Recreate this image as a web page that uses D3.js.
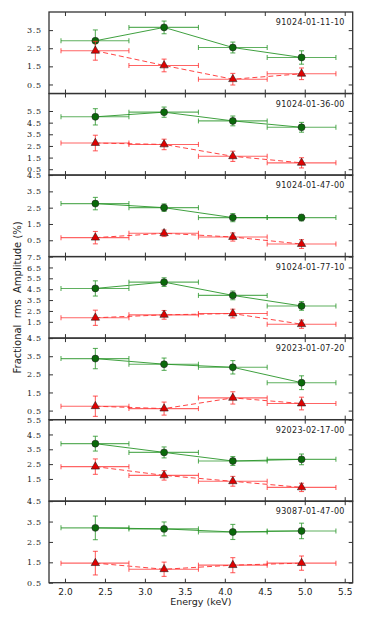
<!DOCTYPE html>
<html>
<head>
<meta charset="utf-8">
<script src="https://cdn.jsdelivr.net/npm/d3@7"></script>
<style>
  body { margin: 0; background: #fff; }
  svg { display: block; }
</style>
</head>
<body>
<div id="chart"></div>
<script>
"use strict";

// energy bins (keV)
const energy = [2.38, 3.24, 4.10, 4.96];
const binLo = [1.95, 2.80, 3.67, 4.53];
const binHi = [2.80, 3.67, 4.53, 5.39];

const obsIds = [
  "91024-01-11-10", "91024-01-36-00", "91024-01-47-00", "91024-01-77-10",
  "92023-01-07-20", "92023-02-17-00", "93087-01-47-00"
];

// green circles (solid)
const greenVals = [
  [2.91, 3.65, 2.54, 1.99],
  [5.00, 5.40, 4.65, 4.10],
  [2.75, 2.50, 1.89, 1.89],
  [4.57, 5.15, 3.93, 2.96],
  [3.37, 3.06, 2.89, 2.04],
  [3.88, 3.29, 2.71, 2.82],
  [3.19, 3.14, 2.99, 3.04]
];
const greenErr = [
  [0.60, 0.35, 0.30, 0.37],
  [0.70, 0.44, 0.42, 0.42],
  [0.38, 0.23, 0.25, 0.20],
  [0.70, 0.40, 0.40, 0.40],
  [0.56, 0.34, 0.37, 0.38],
  [0.50, 0.37, 0.30, 0.36],
  [0.58, 0.34, 0.37, 0.38]
];

// red triangles (dashed)
const redVals = [
  [2.36, 1.55, 0.79, 1.09],
  [2.75, 2.63, 1.61, 1.05],
  [0.66, 0.93, 0.70, 0.27],
  [1.87, 2.14, 2.26, 1.28],
  [0.74, 0.61, 1.20, 0.89],
  [2.33, 1.74, 1.34, 0.93],
  [1.46, 1.16, 1.36, 1.46]
];
const redErr = [
  [0.52, 0.35, 0.32, 0.32],
  [0.67, 0.45, 0.44, 0.44],
  [0.38, 0.20, 0.25, 0.27],
  [0.70, 0.40, 0.40, 0.38],
  [0.56, 0.36, 0.34, 0.35],
  [0.52, 0.32, 0.33, 0.28],
  [0.58, 0.35, 0.37, 0.35]
];

const yDomains = [[0, 4.5], [0, 7], [-0.5, 4.5], [0, 7.5], [0, 4.5], [0, 5.5], [0.5, 4.5]];
const yTicks = [
  [0.5, 1.5, 2.5, 3.5],
  [0.5, 1.5, 2.5, 3.5, 4.5, 5.5],
  [0.5, 1.5, 2.5, 3.5, 4.5],
  [1.5, 2.5, 3.5, 4.5, 5.5, 6.5, 7.5],
  [0.5, 1.5, 2.5, 3.5, 4.5],
  [1.5, 2.5, 3.5, 4.5, 5.5],
  [0.5, 1.5, 2.5, 3.5, 4.5]
];
const xTicks = [2.0, 2.5, 3.0, 3.5, 4.0, 4.5, 5.0, 5.5];

///////////////////////////
// sizing
///////////////////////////
const width = 392, height = 627;
const plotL = 49, plotR = 352.7, plotT = 12, plotB = 582.7;
const ph = (plotB - plotT) / obsIds.length;

const svg = d3.select("#chart").append("svg")
  .attr("width", width).attr("height", height);

const x = d3.scaleLinear().domain([1.8, 5.6]).range([plotL, plotR]);

const series = [
  { vals: greenVals, err: greenErr, line: "#2a962a", fill: "#0a6a0a", dash: null, shape: d3.symbolCircle, size: 38 },
  { vals: redVals, err: redErr, line: "#ff3030", fill: "#e00000", dash: "5,3", shape: d3.symbolTriangle, size: 30 }
];

obsIds.forEach((id, p) => {
  const y0 = plotT + p * ph;
  const y = d3.scaleLinear().domain(yDomains[p]).range([y0 + ph, y0]);
  const g = svg.append("g");

  // axes (inward ticks)
  const ay = g.append("g").attr("transform", `translate(${plotL},0)`)
    .call(d3.axisLeft(y).tickValues(yTicks[p]).tickSize(-4).tickPadding(7).tickFormat(d3.format(".1f")));
  ay.select(".domain").remove();
  ay.selectAll("text")
    .style("font-family", "'DejaVu Serif', serif").style("font-size", "8px")
    .style("letter-spacing", "0.8px").attr("fill", "#222");
  ay.selectAll("line").attr("stroke", "#333");

  const ar = g.append("g").attr("transform", `translate(${plotR},0)`)
    .call(d3.axisRight(y).tickValues(yTicks[p]).tickSize(-4).tickFormat(""));
  ar.select(".domain").remove();
  ar.selectAll("line").attr("stroke", "#333");

  const at = g.append("g").attr("transform", `translate(0,${y0})`)
    .call(d3.axisTop(x).tickValues(xTicks).tickSize(-4).tickFormat(""));
  at.select(".domain").remove();
  at.selectAll("line").attr("stroke", "#333");

  const ab = g.append("g").attr("transform", `translate(0,${y0 + ph})`)
    .call(d3.axisBottom(x).tickValues(xTicks).tickSize(-4).tickPadding(6)
      .tickFormat(p === obsIds.length - 1 ? d3.format(".1f") : ""));
  ab.select(".domain").remove();
  ab.selectAll("line").attr("stroke", "#333");
  ab.selectAll("text").style("font-family", "'DejaVu Sans', sans-serif")
    .style("font-size", "9px").attr("fill", "#222");

  // frame
  g.append("rect")
    .attr("x", plotL).attr("y", y0).attr("width", plotR - plotL).attr("height", ph)
    .attr("fill", "none").attr("stroke", "#333").attr("stroke-width", 1.3);

  series.forEach((s) => {
    const pts = energy.map((e, i) => ({ e, lo: binLo[i], hi: binHi[i], v: s.vals[p][i], er: s.err[p][i] }));

    // connecting line
    g.append("path")
      .datum(pts)
      .attr("fill", "none")
      .attr("stroke", s.line)
      .attr("stroke-width", 1)
      .attr("stroke-opacity", 0.9)
      .attr("stroke-dasharray", s.dash)
      .attr("d", d3.line().x((d) => x(d.e)).y((d) => y(d.v)));

    const eb = g.append("g").attr("stroke", s.line).attr("stroke-width", 1.1).attr("stroke-opacity", 0.75);
    // horizontal bars
    eb.selectAll(".hb").data(pts).enter().append("line")
      .attr("x1", (d) => x(d.lo)).attr("x2", (d) => x(d.hi))
      .attr("y1", (d) => y(d.v)).attr("y2", (d) => y(d.v));
    eb.selectAll(".hc").data(pts.flatMap((d) => [[d.lo, d.v], [d.hi, d.v]])).enter().append("line")
      .attr("x1", (d) => x(d[0])).attr("x2", (d) => x(d[0]))
      .attr("y1", (d) => y(d[1]) - 2.5).attr("y2", (d) => y(d[1]) + 2.5);
    // vertical bars
    eb.selectAll(".vb").data(pts).enter().append("line")
      .attr("x1", (d) => x(d.e)).attr("x2", (d) => x(d.e))
      .attr("y1", (d) => y(d.v - d.er)).attr("y2", (d) => y(d.v + d.er));
    eb.selectAll(".vc").data(pts.flatMap((d) => [[d.e, d.v - d.er], [d.e, d.v + d.er]])).enter().append("line")
      .attr("x1", (d) => x(d[0]) - 2.5).attr("x2", (d) => x(d[0]) + 2.5)
      .attr("y1", (d) => y(d[1])).attr("y2", (d) => y(d[1]));

    // markers
    g.selectAll(null).data(pts).enter().append("path")
      .attr("transform", (d) => `translate(${x(d.e)},${y(d.v)})`)
      .attr("d", d3.symbol().type(s.shape).size(s.size))
      .attr("fill", s.fill)
      .attr("stroke", "#222")
      .attr("stroke-width", 0.6);
  });

  // observation label
  g.append("text")
    .attr("x", plotR - 8).attr("y", y0 + 13)
    .attr("text-anchor", "end")
    .style("font-family", "'DejaVu Sans', sans-serif")
    .style("font-size", "8px")
    .style("letter-spacing", "0.3px")
    .attr("fill", "#222")
    .text(id);
});

// axis titles
svg.append("text")
  .attr("x", (plotL + plotR) / 2).attr("y", 605)
  .attr("text-anchor", "middle")
  .style("font-family", "'DejaVu Sans', sans-serif").style("font-size", "9.5px")
  .attr("fill", "#222")
  .text("Energy (keV)");

svg.append("text")
  .attr("transform", `translate(21,${(plotT + plotB) / 2}) rotate(-90)`)
  .attr("text-anchor", "middle")
  .attr("xml:space", "preserve")
  .style("white-space", "pre")
  .style("font-family", "'DejaVu Sans', sans-serif").style("font-size", "10px")
  .attr("fill", "#222")
  .text("Fractional  rms  Amplitude (%)");
</script>
</body>
</html>
